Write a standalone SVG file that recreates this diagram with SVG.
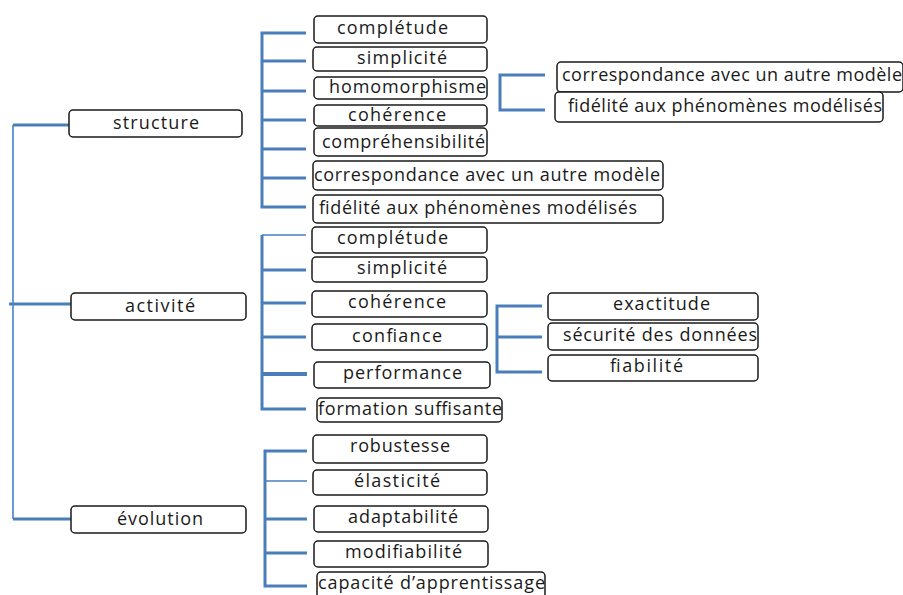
<svg xmlns="http://www.w3.org/2000/svg" width="903" height="595" viewBox="0 0 903 595">
<style>
.b{fill:#fff;stroke:#1a1a1a;stroke-width:1.5}
.t{font-family:"Open Sans","Noto Sans",sans-serif;font-size:18px;fill:#1a1a1a}
.c{fill:none;stroke:#4a7ebb;stroke-width:3}
.tr{fill:none;stroke:#6b9bd6;stroke-width:2}
.th{fill:none;stroke:#4a7ebb;stroke-width:1.5}
</style>
<g id="connectors">
<path class="tr" d="M13,125 V519"/>
<path class="c" d="M13,125 H69 M9,304 H71 M13,519 H71"/>
<path class="c" d="M306,33 H262 V207 H306 M262,61 H306 M262,91 H306 M262,120 H306 M262,149 H306 M262,178 H306"/>
<path class="c" d="M545,75 H500 V110 H545"/>
<path class="th" d="M306,235 H262"/>
<path class="c" d="M262,235 V409 H306 M262,270 H306 M262,303 H306 M262,337 H306"/>
<path class="c" d="M262,374 H307" style="stroke-width:4"/>
<path class="c" d="M542,306 H497 V372 H542 M497,337 H542"/>
<path class="c" d="M307,451 H265 V586 H307 M265,519 H307 M265,553 H307"/>
<path class="th" d="M265,481 H307"/>
</g>
<g id="structure"><rect class="b" x="69" y="110" width="173" height="27" rx="4"/><text class="t" x="113" y="129" textLength="86">structure</text></g>
<g id="activite"><rect class="b" x="71" y="293" width="175" height="27" rx="4"/><text class="t" x="125" y="312" textLength="70">activité</text></g>
<g id="evolution"><rect class="b" x="71" y="506" width="175" height="27" rx="4"/><text class="t" x="117" y="525" textLength="86">évolution</text></g>

<g id="s-completude"><rect class="b" x="314" y="16" width="173" height="27" rx="4"/><text class="t" x="337" y="34" textLength="111">complétude</text></g>
<g id="s-simplicite"><rect class="b" x="313" y="47" width="174" height="24" rx="4"/><text class="t" x="357" y="64" textLength="90">simplicité</text></g>
<g id="s-homomorphisme"><rect class="b" x="314" y="77" width="173" height="22" rx="4"/><text class="t" x="329" y="93" textLength="157">homomorphisme</text></g>
<g id="s-coherence"><rect class="b" x="314" y="105" width="173" height="21" rx="4"/><text class="t" x="348" y="121" textLength="98">cohérence</text></g>
<g id="s-comprehensibilite"><rect class="b" x="314" y="128" width="173" height="28" rx="4"/><text class="t" x="322" y="148" textLength="163">compréhensibilité</text></g>
<g id="s-correspondance"><rect class="b" x="313" y="161" width="350" height="29" rx="4"/><text class="t" x="314" y="181" textLength="346">correspondance avec un autre modèle</text></g>
<g id="s-fidelite"><rect class="b" x="313" y="195" width="350" height="28" rx="4"/><text class="t" x="319" y="214" textLength="318">fidélité aux phénomènes modélisés</text></g>

<g id="h-correspondance"><rect class="b" x="557" y="62" width="346" height="30" rx="4"/><text class="t" x="562" y="81" textLength="340">correspondance avec un autre modèle</text></g>
<g id="h-fidelite"><rect class="b" x="555" y="92" width="328" height="30" rx="4"/><text class="t" x="568" y="112" textLength="314">fidélité aux phénomènes modélisés</text></g>

<g id="a-completude"><rect class="b" x="312" y="227" width="175" height="26" rx="4"/><text class="t" x="337" y="244" textLength="111">complétude</text></g>
<g id="a-simplicite"><rect class="b" x="312" y="257" width="175" height="25" rx="4"/><text class="t" x="357" y="274" textLength="90">simplicité</text></g>
<g id="a-coherence"><rect class="b" x="312" y="291" width="175" height="26" rx="4"/><text class="t" x="348" y="308" textLength="98">cohérence</text></g>
<g id="a-confiance"><rect class="b" x="312" y="324" width="175" height="26" rx="4"/><text class="t" x="352" y="342" textLength="90">confiance</text></g>
<g id="a-performance"><rect class="b" x="314" y="362" width="176" height="26" rx="4"/><text class="t" x="343" y="379" textLength="119">performance</text></g>
<g id="a-formation"><rect class="b" x="317" y="398" width="185" height="24" rx="4"/><text class="t" x="318" y="415" textLength="184">formation suffisante</text></g>

<g id="c-exactitude"><rect class="b" x="548" y="293" width="210" height="27" rx="4"/><text class="t" x="613" y="310" textLength="97">exactitude</text></g>
<g id="c-securite"><rect class="b" x="548" y="323" width="210" height="27" rx="4"/><text class="t" x="563" y="341" textLength="194">sécurité des données</text></g>
<g id="c-fiabilite"><rect class="b" x="548" y="355" width="210" height="26" rx="4"/><text class="t" x="610" y="372" textLength="73">fiabilité</text></g>

<g id="e-robustesse"><rect class="b" x="313" y="435" width="174" height="28" rx="4"/><text class="t" x="350" y="452" textLength="100">robustesse</text></g>
<g id="e-elasticite"><rect class="b" x="313" y="470" width="174" height="25" rx="4"/><text class="t" x="354" y="487" textLength="86">élasticité</text></g>
<g id="e-adaptabilite"><rect class="b" x="314" y="506" width="174" height="26" rx="4"/><text class="t" x="348" y="523" textLength="110">adaptabilité</text></g>
<g id="e-modifiabilite"><rect class="b" x="314" y="541" width="174" height="26" rx="4"/><text class="t" x="345" y="558" textLength="117">modifiabilité</text></g>
<g id="e-capacite"><rect class="b" x="317" y="572" width="228" height="26" rx="4"/><text class="t" x="318" y="589" textLength="227">capacité d’apprentissage</text></g>
</svg>
